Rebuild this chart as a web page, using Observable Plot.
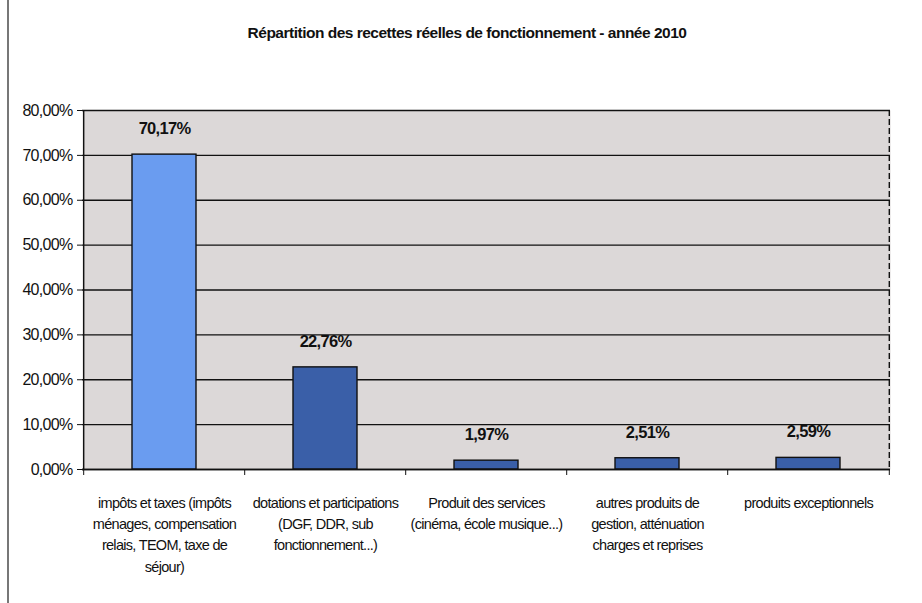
<!DOCTYPE html>
<html>
<head>
<meta charset="utf-8">
<script src="https://cdn.jsdelivr.net/npm/d3@7"></script>
<script src="https://cdn.jsdelivr.net/npm/@observablehq/plot@0.6"></script>
<style>
  html, body { margin: 0; padding: 0; background: #fff; }
  body { width: 922px; height: 603px; position: relative; overflow: hidden;
         font-family: "Liberation Sans", Arial, sans-serif; }
  #edge { position: absolute; left: 7px; top: 0; width: 0; height: 603px; border-left: 2px solid #777; }
  #title { height: 66px; line-height: 66px; text-align: center; padding-left: 12px; box-sizing: border-box;
           font-size: 15.5px; font-weight: bold; color: #111; letter-spacing: -0.5px; }
  #chart svg { display: block; }
  #chart svg text { letter-spacing: -0.7px; }
</style>
</head>
<body>
<div id="edge"></div>
<div id="title">Répartition des recettes réelles de fonctionnement - année 2010</div>
<div id="chart"></div>
<script>
const categories = [
  "impôts et taxes (impôts\nménages, compensation\nrelais, TEOM, taxe de\nséjour)",
  "dotations et participations\n(DGF, DDR, sub\nfonctionnement...)",
  "Produit des services\n(cinéma, école musique...)",
  "autres produits de\ngestion, atténuation\ncharges et reprises",
  "produits exceptionnels"
];
const values = [70.17, 22.76, 1.97, 2.51, 2.59];
const valueLabels = ["70,17%", "22,76%", "1,97%", "2,51%", "2,59%"];
const yTicks = [0, 10, 20, 30, 40, 50, 60, 70, 80];

const barColors = ["#6a9cf0", "#3a5fa8", "#3a5fa8", "#3a5fa8", "#3a5fa8"];
const data = categories.map((c, i) => ({cat: c, value: values[i], label: valueLabels[i], color: barColors[i]}));
const font = `"Liberation Sans", Arial, sans-serif`;

const chart = Plot.plot({
  width: 922,
  height: 537,
  marginTop: 44,
  marginBottom: 134,
  marginLeft: 82,
  marginRight: 32,
  style: {fontFamily: font, fontSize: "14px", color: "#111", background: "transparent"},
  x: {domain: categories, paddingInner: 0.6, paddingOuter: 0.3, label: null},
  y: {domain: [0, 80], ticks: yTicks, label: null},
  marks: [
    Plot.frame({fill: "#dcd8d8", stroke: "none"}),
    Plot.ruleY(yTicks, {stroke: "#111", strokeWidth: 1.4}),
    Plot.ruleX([categories[0]], {dx: -80.8, stroke: "#111", strokeWidth: 1.4}),
    Plot.ruleX([categories[4]], {dx: 80.8, stroke: "#111", strokeWidth: 1.4, strokeDasharray: "6,3"}),
    Plot.barY(data, {x: "cat", y: "value", fill: "color", stroke: "#111", strokeWidth: 1.4}),
    Plot.text(data, {x: "cat", y: "value", text: "label", dy: -26, fontWeight: "bold", fontSize: 16.5, fill: "#111"}),
    Plot.axisY({ticks: yTicks, tickSize: 5, tickPadding: 5, tickFormat: d => d.toFixed(2).replace(".", ",") + "%", fontSize: 16, stroke: "#111"}),
    Plot.axisX({tickSize: 0, tickPadding: 24, lineHeight: 1.45, fontSize: 14.5, textAnchor: "middle"}),
    Plot.axisX({tickSize: 6, text: null, dx: -80.8, stroke: "#111"}),
    Plot.axisX({ticks: [categories[4]], tickSize: 6, text: null, dx: 80.8, stroke: "#111"}),
    Plot.ruleY([0], {stroke: "#111", strokeWidth: 1.6})
  ]
});
document.getElementById("chart").appendChild(chart);
</script>
</body>
</html>
